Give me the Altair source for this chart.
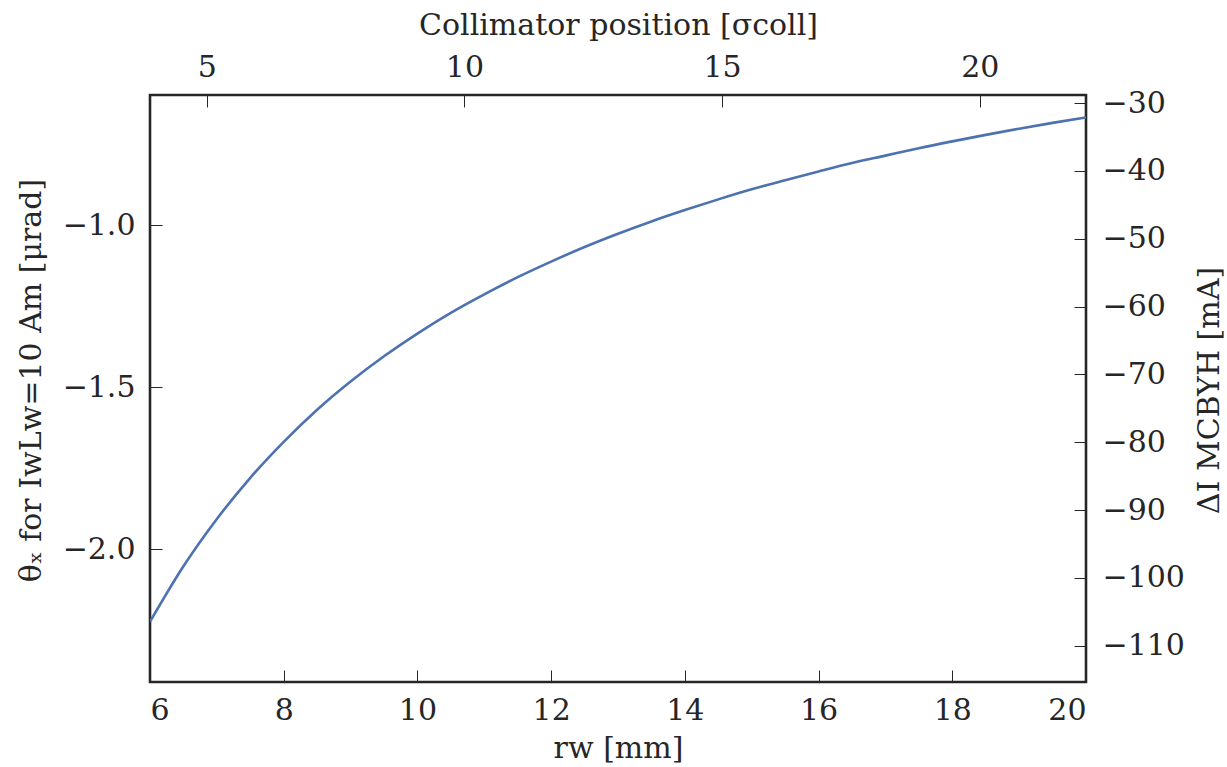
import altair as alt
import pandas as pd

# ---- data ----
r_mm = [6.0, 6.5, 7.0, 7.5, 8.0, 8.5, 9.0, 9.5, 10.0, 10.5, 11.0, 11.5, 12.0,
        12.5, 13.0, 13.5, 14.0, 14.5, 15.0, 15.5, 16.0, 16.5, 17.0, 17.5,
        18.0, 18.5, 19.0, 19.5, 20.0]
theta_urad = [-2.223, -2.052, -1.906, -1.779, -1.668, -1.569, -1.482, -1.404,
              -1.334, -1.270, -1.213, -1.160, -1.112, -1.067, -1.026, -0.988,
              -0.953, -0.920, -0.889, -0.861, -0.834, -0.808, -0.785, -0.762,
              -0.741, -0.721, -0.702, -0.684, -0.667]

bottom_ticks = [6, 8, 10, 12, 14, 16, 18, 20]
left_ticks = [-2.0, -1.5, -1.0]
top_ticks = [5, 10, 15, 20]
right_ticks = [-110, -100, -90, -80, -70, -60, -50, -40, -30]

x_domain = [6, 20]
y_domain = [-2.409, -0.598]
top_domain = [3.90, 22.06]
right_domain = [-115.35, -28.82]

bottom_title = "rw [mm]"
left_title = "θₓ for IwLw=10 Am [μrad]"
top_title = "Collimator position [σcoll]"
right_title = "ΔI MCBYH [mA]"

# ---- style ----
W, H = 936, 587
FONT = "DejaVu Serif"
INK = "#262626"
FS = 30

df = pd.DataFrame({"r": r_mm, "theta": theta_urad})
edges = pd.DataFrame({"pos": top_domain, "dI": right_domain})

common = dict(labelFont=FONT, labelFontSize=FS, labelColor=INK,
              titleFont=FONT, titleFontSize=FS, titleColor=INK,
              titleFontWeight="normal", domain=False, grid=False)

tick_only = dict(labels=False, domain=False, grid=False, ticks=True,
                 tickSize=12, tickColor=INK, tickWidth=1, title=None)


def sc(d):
    return alt.Scale(domain=d, nice=False, zero=False)


# main line: bottom x / left y labels and titles
line = alt.Chart(df).mark_line(
    color="#4C72B0", strokeWidth=2.6, interpolate="monotone", clip=True
).encode(
    x=alt.X("r:Q", scale=sc(x_domain),
            axis=alt.Axis(orient="bottom", values=bottom_ticks, format="d",
                          ticks=False, labelPadding=37,
                          labelBaseline="alphabetic",
                          title=bottom_title, titleX=W / 2, titleY=75,
                          titleAlign="center", titleBaseline="alphabetic",
                          **common)),
    y=alt.Y("theta:Q", scale=sc(y_domain),
            axis=alt.Axis(orient="left", values=left_ticks, format=".1f",
                          ticks=False, labelPadding=15,
                          title=left_title, titleAngle=270, titleX=-110,
                          titleY=285, titleAlign="center",
                          titleBaseline="alphabetic", **common)),
)

# inward ticks for the bottom x and left y scales
ticks_main = alt.Chart(df).mark_point(opacity=0).encode(
    x=alt.X("r:Q", scale=sc(x_domain),
            axis=alt.Axis(orient="top", offset=-H, values=bottom_ticks,
                          **tick_only)),
    y=alt.Y("theta:Q", scale=sc(y_domain),
            axis=alt.Axis(orient="right", offset=-W, values=left_ticks,
                          **tick_only)),
)

# secondary axes: top x / right y labels and titles
second = alt.Chart(edges).mark_point(opacity=0).encode(
    x=alt.X("pos:Q", scale=sc(top_domain),
            axis=alt.Axis(orient="top", values=top_ticks, format="d",
                          ticks=False, labelPadding=19,
                          labelBaseline="alphabetic",
                          title=top_title, titleX=W / 2, titleY=-61,
                          titleAlign="center", titleBaseline="alphabetic",
                          **common)),
    y=alt.Y("dI:Q", scale=sc(right_domain),
            axis=alt.Axis(orient="right", values=right_ticks, format="d",
                          ticks=False, labelPadding=16,
                          title=right_title, titleAngle=270, titleX=132,
                          titleY=295, titleAlign="center",
                          titleBaseline="alphabetic", **common)),
)

# inward ticks for the secondary scales
ticks_second = alt.Chart(edges).mark_point(opacity=0).encode(
    x=alt.X("pos:Q", scale=sc(top_domain),
            axis=alt.Axis(orient="bottom", offset=-H, values=top_ticks,
                          **tick_only)),
    y=alt.Y("dI:Q", scale=sc(right_domain),
            axis=alt.Axis(orient="left", offset=-W, values=right_ticks,
                          **tick_only)),
)

chart = alt.layer(line, ticks_main, second, ticks_second).resolve_scale(
    x="independent", y="independent"
).properties(
    width=W, height=H,
    autosize=alt.AutoSizeParams(type="none"),
    padding={"left": 150, "top": 95, "right": 141, "bottom": 85},
    background="white",
).configure_view(stroke=INK, strokeWidth=2.6)

chart.save("out.html", embed_options={"renderer": "svg", "actions": False})
